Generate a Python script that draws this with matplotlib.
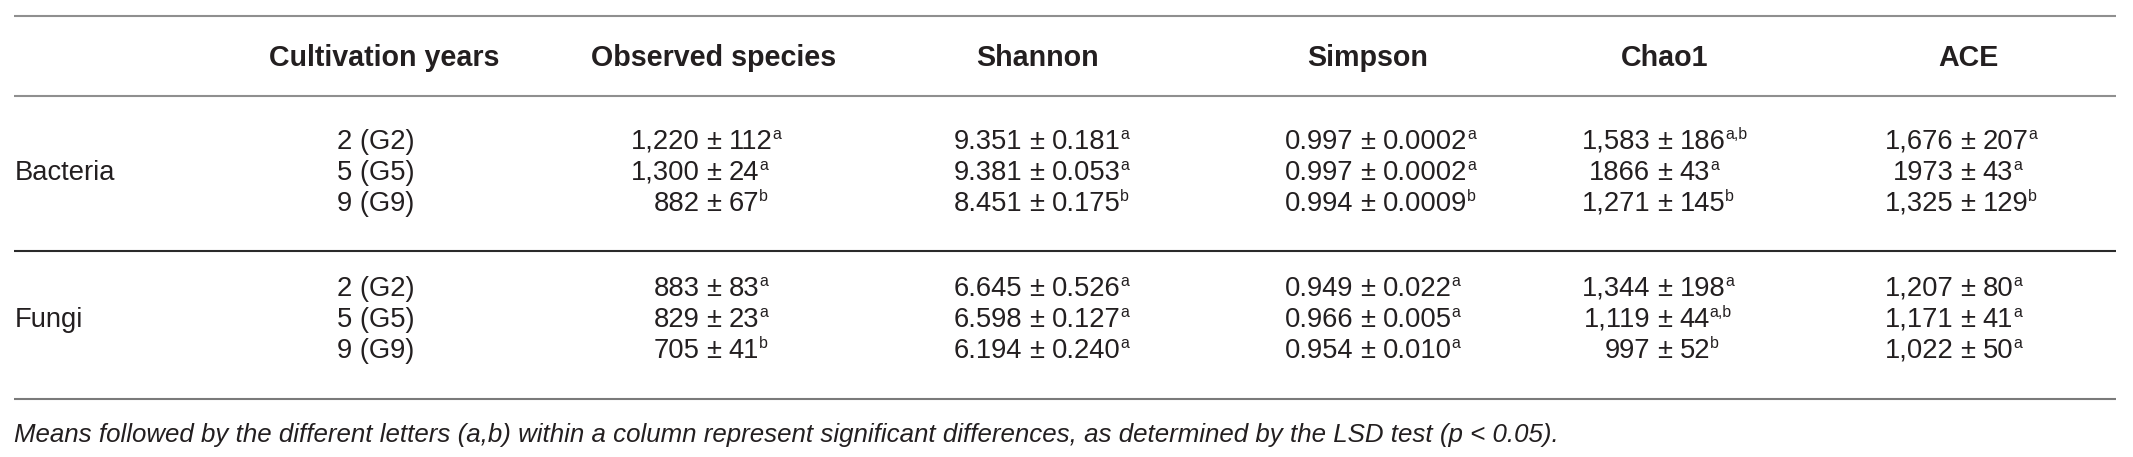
import numpy as np
import matplotlib.pyplot as plt

# Таблица: альфа-разнообразие бактерий и грибов
groups = ['Bacteria', 'Fungi']
years = ['2 (G2)', '5 (G5)', '9 (G9)']
headers = ['Cultivation years', 'Observed species', 'Shannon', 'Simpson', 'Chao1', 'ACE']

obs_mean = ['1,220', '1,300', '882', '883', '829', '705']
obs_sd = ['112', '24', '67', '83', '23', '41']
obs_sig = ['a', 'a', 'b', 'a', 'a', 'b']

shannon_mean = ['9.351', '9.381', '8.451', '6.645', '6.598', '6.194']
shannon_sd = ['0.181', '0.053', '0.175', '0.526', '0.127', '0.240']
shannon_sig = ['a', 'a', 'b', 'a', 'a', 'a']

simpson_mean = ['0.997', '0.997', '0.994', '0.949', '0.966', '0.954']
simpson_sd = ['0.0002', '0.0002', '0.0009', '0.022', '0.005', '0.010']
simpson_sig = ['a', 'a', 'b', 'a', 'a', 'a']

chao1_mean = ['1,583', '1866', '1,271', '1,344', '1,119', '997']
chao1_sd = ['186', '43', '145', '198', '44', '52']
chao1_sig = ['a,b', 'a', 'b', 'a', 'a,b', 'b']

ace_mean = ['1,676', '1973', '1,325', '1,207', '1,171', '1,022']
ace_sd = ['207', '43', '129', '80', '41', '50']
ace_sig = ['a', 'a', 'b', 'a', 'a', 'a']

footnote = ('Means followed by the different letters (a,b) within a column represent '
            'significant differences, as determined by the LSD test (p < 0.05).')

# Разметка (пиксели)
W, H = 2133, 457
col_x = [384, 714, 1037, 1368, 1665, 1968]
header_y = 56
row_y = [139, 170, 201, 286, 317, 348]
group_y = [170, 317]
rule_y = [16, 96, 251, 399]
rule_c = ['#8f8f8f', '#8f8f8f', '#2a2a2a', '#7a7a7a']
foot_y = 433
x0, x1 = 14, 2116
ink = '#231f20'

plt.rcParams['font.family'] = ['Liberation Sans', 'DejaVu Sans']

fig = plt.figure(figsize=(W / 100, H / 100), dpi=100)
ax = fig.add_axes([0, 0, 1, 1])
ax.set_xlim(0, W)
ax.set_ylim(H, 0)
ax.axis('off')
r = fig.canvas.get_renderer()


def width(t):
    return t.get_window_extent(r).width


def fit(t, w):
    t.set_fontsize(t.get_fontsize() * w / width(t))
    return t.get_fontsize()


def base(y, fs):
    # базовая линия так, чтобы заглавные буквы были по центру y
    return y + 0.36 * fs * 100 / 72


for y, c in zip(rule_y, rule_c):
    ax.plot([x0, x1], [y, y], color=c, lw=1.5, solid_capstyle='butt')

# размеры шрифтов подгоняем под ширину надписей на картинке
t = ax.text(0, 0, groups[0], size=18)
fs = fit(t, 100)
t.remove()
t = ax.text(0, 0, headers[0], size=18, weight='bold')
fs_h = fit(t, 230)
t.remove()
fs_sup = fs * 0.58

for h, x in zip(headers, col_x):
    ax.text(x, base(header_y, fs_h), h, ha='center', va='baseline',
            size=fs_h, weight='bold', color=ink)

for g, y in zip(groups, group_y):
    ax.text(x0 + 1, base(y, fs), g, ha='left', va='baseline', size=fs, color=ink)

for i, y in enumerate(row_y):
    ax.text(col_x[0] - 8, base(y, fs), years[i % 3], ha='center', va='baseline',
            size=fs, color=ink)

cols = [(obs_mean, obs_sd, obs_sig),
        (shannon_mean, shannon_sd, shannon_sig),
        (simpson_mean, simpson_sd, simpson_sig),
        (chao1_mean, chao1_sd, chao1_sig),
        (ace_mean, ace_sd, ace_sig)]

gap = 0.26 * fs * 100 / 72
for (means, sds, sigs), xc in zip(cols, col_x[1:]):
    for m, s, g, y in zip(means, sds, sigs, row_y):
        yb = base(y, fs)
        pm = ax.text(xc, yb, '±', ha='center', va='baseline', size=fs, color=ink)
        half = width(pm) / 2
        ax.text(xc - half - gap, yb, m, ha='right', va='baseline', size=fs, color=ink)
        rt = ax.text(xc + half + gap, yb, s, ha='left', va='baseline', size=fs, color=ink)
        ax.text(xc + half + gap + width(rt), yb - 0.36 * fs * 100 / 72, g,
                ha='left', va='baseline', size=fs_sup, color=ink)

ft = ax.text(x0, base(foot_y, 14), footnote, ha='left', va='baseline',
             size=14, style='italic', color=ink)
fs_f = fit(ft, 1546)
ft.set_y(base(foot_y, fs_f))

fig.savefig('out.png', dpi=100)
